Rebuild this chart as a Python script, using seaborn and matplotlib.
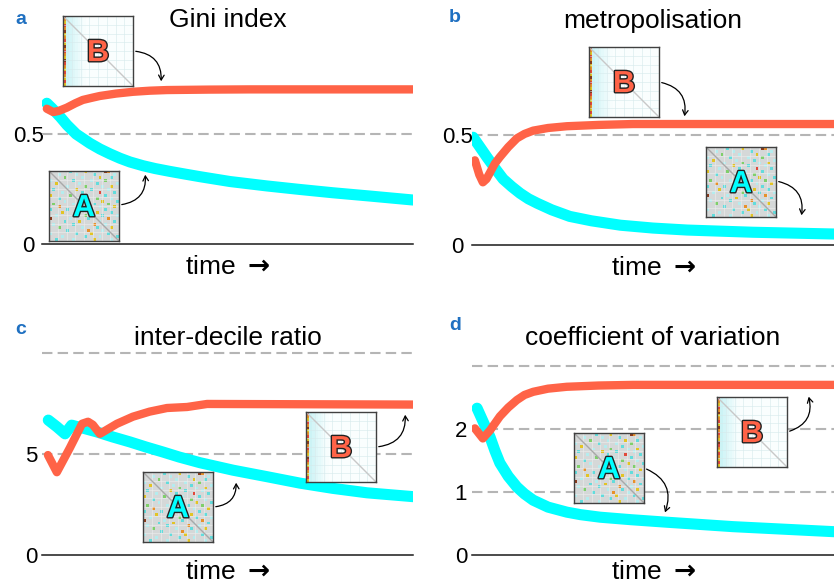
import matplotlib
matplotlib.use("Agg")
import matplotlib.pyplot as plt
import matplotlib.patheffects as pe
from matplotlib.patches import FancyArrowPatch
from matplotlib.colors import to_rgb
import seaborn as sns
import numpy as np

# ---- curve data (time in arbitrary units 0..100) ----
gini_t_A = [1.3, 2.7, 4.9, 6.7, 9.2, 12.9, 15.6, 18.3, 21, 23.7, 27.2, 30.5, 34.5, 38.5,
            42.6, 50.7, 60.6, 69.5, 78.4, 88.4, 100]
gini_A = [0.64, 0.617, 0.578, 0.542, 0.50, 0.458, 0.432, 0.41, 0.39, 0.373, 0.356, 0.343, 0.33, 0.318,
          0.306, 0.284, 0.264, 0.248, 0.233, 0.218, 0.20]
gini_t_B = [1.3, 3.0, 4.5, 6.7, 9, 11, 13.5, 15.6, 20, 24.5, 29, 33.7, 45, 56, 100]
gini_B = [0.615, 0.60, 0.605, 0.62, 0.64, 0.655, 0.665, 0.673, 0.684, 0.692, 0.697, 0.70, 0.702, 0.703, 0.703]

metro_t_A = [0.3, 2, 4.1, 6.3, 8.6, 11, 13.3, 15.6, 18, 22, 27, 33, 41, 50, 59.4, 77.6, 100]
metro_A = [0.49, 0.45, 0.40, 0.35, 0.30, 0.265, 0.235, 0.21, 0.19, 0.16, 0.13, 0.11, 0.09, 0.077,
           0.068, 0.058, 0.05]
metro_t_B = [0.8, 2, 3.0, 4, 5.0, 6.3, 7.7, 10, 12.4, 14.5, 16.9, 21, 26.2, 35, 44.5, 100]
metro_B = [0.385, 0.32, 0.285, 0.30, 0.33, 0.37, 0.40, 0.445, 0.485, 0.505, 0.52, 0.532, 0.54,
           0.546, 0.55, 0.55]

idr_t_A = [1.7, 4.0, 6.2, 8.0, 11.1, 14.7, 19, 23.7, 28, 32.6, 37, 42.6, 51.5, 60.6, 69.5, 78.4, 87.6, 100]
idr_A = [6.68, 6.35, 6.0, 6.43, 6.28, 6.1, 5.85, 5.6, 5.35, 5.1, 4.85, 4.57, 4.2, 3.88, 3.56, 3.3, 3.08, 2.89]
idr_t_B = [1.6, 4.0, 7.5, 10.8, 12.4, 13.7, 15.6, 20.2, 24.5, 29, 33.7, 39.1, 44.5, 100]
idr_B = [4.95, 4.1, 5.3, 6.5, 6.6, 6.45, 6.0, 6.5, 6.85, 7.1, 7.28, 7.33, 7.48, 7.45]

cv_t_A = [1.4, 3.2, 5.0, 6.3, 7.7, 10, 12.4, 14.5, 16.9, 21, 26.2, 30, 35.4, 44, 53.9, 63, 72.1, 86, 100]
cv_A = [2.33, 2.1, 1.87, 1.66, 1.46, 1.25, 1.08, 0.97, 0.87, 0.76, 0.68, 0.64, 0.6, 0.56, 0.52,
        0.485, 0.45, 0.41, 0.37]
cv_t_B = [0.8, 3.0, 5, 7.7, 10, 12.4, 14.5, 16.9, 21, 26.2, 35, 44.5, 100]
cv_B = [2.01, 1.85, 1.98, 2.2, 2.34, 2.46, 2.54, 2.59, 2.64, 2.67, 2.69, 2.7, 2.7]

titles = ["Gini index", "metropolisation", "inter-decile ratio", "coefficient of variation"]
letters = ["a", "b", "c", "d"]
yticks = [[0, 0.5], [0, 0.5], [0, 5], [0, 1, 2]]
ygrids = [[0.5], [0.5], [5, 10], [1, 2, 3]]

# ---- inset matrices (24x24) ----
# colour levels: 1 light cyan, 2 cyan, 3 green, 4 yellow, 5 orange, 6 red, 7 brown
LEVEL_COLORS = ["#d5d8d8", "#b4ecee", "#62dcdc", "#7fcf6a", "#e2c424", "#e8902a", "#e2483a", "#8a3a1c"]
A_CELLS = [
    (0, 7, 2), (0, 12, 4), (0, 19, 7), (0, 20, 5), (1, 3, 1), (1, 9, 1), (1, 15, 2), (1, 22, 1),
    (2, 5, 3), (2, 11, 1), (2, 17, 4), (2, 21, 2), (3, 0, 1), (3, 8, 2), (3, 14, 1), (3, 19, 3),
    (4, 2, 4), (4, 10, 1), (4, 16, 2), (4, 23, 1), (5, 6, 1), (5, 12, 3), (5, 18, 1), (5, 21, 4),
    (6, 1, 2), (6, 9, 4), (6, 14, 2), (6, 20, 1), (7, 4, 1), (7, 11, 2), (7, 17, 6), (7, 22, 2),
    (8, 0, 4), (8, 7, 3), (8, 13, 1), (8, 19, 2), (9, 3, 2), (9, 10, 1), (9, 16, 3), (9, 21, 1),
    (10, 5, 1), (10, 12, 2), (10, 18, 4), (10, 23, 2), (11, 1, 3), (11, 8, 1), (11, 15, 2), (11, 20, 3),
    (12, 3, 5), (12, 11, 6), (12, 17, 1), (12, 22, 4), (13, 0, 2), (13, 6, 2), (13, 14, 1), (13, 19, 2),
    (14, 4, 4), (14, 9, 1), (14, 16, 4), (14, 21, 2), (15, 2, 1), (15, 12, 3), (15, 18, 2), (15, 23, 1),
    (16, 0, 7), (16, 7, 1), (16, 13, 2), (16, 20, 5), (17, 5, 2), (17, 10, 4), (17, 17, 1), (17, 22, 2),
    (18, 1, 1), (18, 8, 2), (18, 15, 5), (18, 19, 1), (19, 3, 3), (19, 11, 1), (19, 16, 2), (19, 21, 4),
    (20, 6, 2), (20, 13, 5), (20, 18, 1), (21, 0, 1), (21, 9, 2), (21, 14, 4), (21, 20, 2),
    (22, 4, 1), (22, 12, 2), (22, 17, 1), (22, 23, 2), (23, 2, 2), (23, 8, 1), (23, 15, 4), (23, 21, 1),
]
B_EDGE = [6, 5, 4, 6, 5, 7, 4, 5, 6, 4, 7, 5, 6, 5, 4, 7, 6, 5, 4, 6, 5, 4, 6, 4]
B_TINT = [0.85, 0.7, 0.55, 0.45, 0.35, 0.22, 0.12]

CYAN = "#00FFFF"
RED = "#FF6347"
N = 24
W, H = 834, 588


def box(l, t, r, b):
    return [l / W, 1 - b / H, (r - l) / W, (b - t) / H]


def matrix_A():
    img = np.tile(np.array(to_rgb(LEVEL_COLORS[0])), (N, N, 1))
    for r, c, lev in A_CELLS:
        img[r, c] = to_rgb(LEVEL_COLORS[lev])
    return img


def matrix_B():
    white = np.array([1.0, 1.0, 1.0])
    tint = np.array(to_rgb("#c4f2f4"))
    img = np.tile(white * 0.93 + tint * 0.07, (N, N, 1))
    for j, a in enumerate(B_TINT):
        img[:, j + 1] = white * (1 - a) + tint * a
    for r, lev in enumerate(B_EDGE):
        img[r, 0] = to_rgb(LEVEL_COLORS[lev])
    return img


def inset(fig, l, t, kind):
    ax = fig.add_axes(box(l, t, l + 70, t + 70))
    if kind == "A":
        ax.imshow(matrix_A(), extent=(0, N, N, 0), interpolation="nearest", aspect="auto")
        gcol, dcol, fill = "#eeeeee", "#a8a8a8", CYAN
    else:
        ax.imshow(matrix_B(), extent=(0, N, N, 0), interpolation="nearest", aspect="auto")
        gcol, dcol, fill = "#d6eaec", "#c8c8c8", RED
    for k in range(3, N, 3):
        ax.axvline(k, color=gcol, lw=0.4)
        ax.axhline(k, color=gcol, lw=0.4)
    ax.plot([0, N], [0, N], color=dcol, lw=1)
    ax.set_xlim(0, N)
    ax.set_ylim(N, 0)
    ax.set_xticks([])
    ax.set_yticks([])
    for s in ax.spines.values():
        s.set_color("#404040")
        s.set_linewidth(1)
    txt = ax.text(0.5, 0.47, kind, transform=ax.transAxes, ha="center", va="center",
                  fontsize=22, fontweight="bold", color=fill)
    txt.set_path_effects([pe.withStroke(linewidth=2, foreground="#222222")])
    return ax


def arrow(fig, p0, p1, rad):
    a = FancyArrowPatch((p0[0] / W, 1 - p0[1] / H), (p1[0] / W, 1 - p1[1] / H),
                        transform=fig.transFigure, connectionstyle=f"arc3,rad={rad}",
                        arrowstyle="->,head_length=3.5,head_width=2", lw=0.9, color="black")
    fig.add_artist(a)


sns.set_style("white")
plt.rcParams["font.family"] = ["Liberation Sans", "DejaVu Sans"]
plt.rcParams["text.color"] = "black"
plt.rcParams["axes.labelcolor"] = "black"
plt.rcParams["ytick.color"] = "black"

fig = plt.figure(figsize=(8.34, 5.88), dpi=100)

panels = [
    (box(42, 30, 413, 244), 0.973, gini_t_A, gini_A, gini_t_B, gini_B, 2.4, 8.0, 10),
    (box(472, 31, 834, 245), 0.973, metro_t_A, metro_A, metro_t_B, metro_B, 2.4, 8.0, 10.5),
    (box(42, 345, 413, 555), 10.4, idr_t_A, idr_A, idr_t_B, idr_B, 0, 3.8, 8),
    (box(472, 345, 834, 555), 3.333, cv_t_A, cv_A, cv_t_B, cv_B, 0, 3.8, 8),
]

for i, (pos, ymax, tA, vA, tB, vB, tpad, lpad, ypad) in enumerate(panels):
    ax = fig.add_axes(pos)
    for g in ygrids[i]:
        ax.axhline(g, color="#b5b5b5", lw=1.5, ls=(0, (5, 2.5)), zorder=1)
    sns.lineplot(x=tA, y=vA, ax=ax, color=CYAN, linewidth=8, solid_capstyle="round",
                 solid_joinstyle="round", zorder=3)
    sns.lineplot(x=tB, y=vB, ax=ax, color=RED, linewidth=6, solid_capstyle="round",
                 solid_joinstyle="round", zorder=4)
    ax.set_xlim(0, 100)
    ax.set_ylim(0, ymax)
    ax.set_xticks([])
    ax.set_yticks(yticks[i])
    ax.set_yticklabels([f"{v:g}" for v in yticks[i]], ha="center")
    ax.tick_params(axis="y", length=0, pad=ypad, labelsize=16, labelcolor="black")
    sns.despine(ax=ax, left=True)
    ax.spines["bottom"].set_color("#1a1a1a")
    ax.spines["bottom"].set_linewidth(1.1)
    ax.set_title(titles[i], fontsize=19, pad=tpad, color="black")
    ax.set_xlabel(r"time$\;\mathbf{\rightarrow}$", fontsize=19, labelpad=lpad, color="black")
    ax.set_ylabel("")

# panel letters
for lt, (x, y) in zip(letters, [(21, 19), (455, 18), (21, 330), (455, 326)]):
    fig.text(x / W, 1 - y / H, lt, ha="center", va="center", fontsize=14,
             fontweight="bold", color="#1f70c1")

# insets and arrows
inset(fig, 63, 16, "B")
arrow(fig, (133, 51), (161, 84), -0.5)
inset(fig, 49, 171, "A")
arrow(fig, (119, 205), (145, 172), 0.5)

inset(fig, 589, 47, "B")
arrow(fig, (659, 82), (684, 119), -0.5)
inset(fig, 706, 147, "A")
arrow(fig, (776, 181), (801, 218), -0.5)

inset(fig, 143, 472, "A")
arrow(fig, (213, 507), (236, 480), 0.5)
inset(fig, 306, 412, "B")
arrow(fig, (376, 447), (405, 412), 0.5)

inset(fig, 574, 433, "A")
arrow(fig, (644, 468), (664, 515), -0.5)
inset(fig, 717, 397, "B")
arrow(fig, (787, 432), (808, 394), 0.5)

fig.savefig("out.png", dpi=100)
